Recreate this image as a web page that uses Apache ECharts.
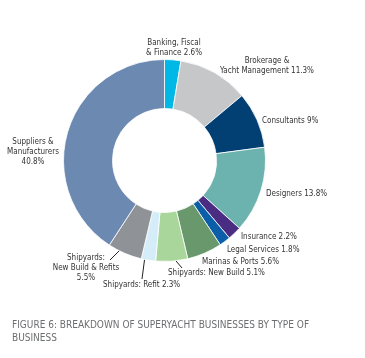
<!DOCTYPE html>
<html>
<head>
<meta charset="utf-8">
<script src="https://cdn.jsdelivr.net/npm/echarts@6/dist/echarts.min.js"></script>
<style>
html,body{margin:0;padding:0;background:#fff;}
#c{width:365px;height:358px;}
</style>
</head>
<body>
<div id="c"></div>
<script>
const categories = [
  'Banking, Fiscal\n& Finance',
  'Brokerage &\nYacht Management',
  'Consultants',
  'Designers',
  'Insurance',
  'Legal Services',
  'Marinas & Ports',
  'Shipyards: New Build',
  'Shipyards: Refit',
  'Shipyards:\nNew Build & Refits\n',
  'Suppliers &\nManufacturers\n'
];
const values = [2.6, 11.3, 9, 13.8, 2.2, 1.8, 5.6, 5.1, 2.3, 5.5, 40.8];
const colors = ['#00b8e6', '#c6c7c9', '#023f73', '#6cb2ae', '#4a2d82', '#0c5ea8', '#68986c', '#a9d69b', '#d5edf8', '#8f9297', '#6c89b2'];

// label anchor layout (x, y, align, leader line end)
const labelPos = [
  {x:174, y:48, align:'center'},
  {x:267, y:66, align:'center'},
  {x:262, y:121, align:'left'},
  {x:266, y:194, align:'left'},
  {x:241, y:237, align:'left'},
  {x:227, y:250, align:'left'},
  {x:202, y:262, align:'left'},
  {x:168, y:273, align:'left', line:[[165,248],[182,268]]},
  {x:103, y:285, align:'left', line:[[145,256],[142,279]]},
  {x:86, y:268, align:'center', line:[[128,242],[110,260]]},
  {x:33, y:152, align:'center'}
];

const FONT = '"DejaVu Sans Condensed", "DejaVu Sans", sans-serif';
const chart = echarts.init(document.getElementById('c'), null, {renderer:'canvas'});
chart.setOption({
  animation:false,
  title:{
    text:'FIGURE 6: BREAKDOWN OF SUPERYACHT BUSINESSES BY TYPE OF\nBUSINESS',
    left:12, top:318.5, padding:0,
    textStyle:{fontFamily:FONT, fontSize:10, fontWeight:'normal', color:'#6d6e70', lineHeight:13}
  },
  series:[{
    type:'pie',
    center:[164.5,160.5],
    radius:[52,101],
    startAngle:90,
    clockwise:true,
    avoidLabelOverlap:false,
    itemStyle:{borderColor:'#fff', borderWidth:0.8},
    label:{
      show:true,
      formatter: p => p.name + (p.name.endsWith('\n') ? '' : ' ') + p.value + '%',
      fontFamily:FONT,
      fontSize:8, color:'#333', lineHeight:10
    },
    labelLine:{show:true, lineStyle:{color:'#222', width:1}},
    labelLayout: function(params){
      const lp = labelPos[params.dataIndex];
      const r = {x:lp.x, y:lp.y, align:lp.align, verticalAlign:'middle'};
      if (lp.line) {
        r.labelLinePoints = [lp.line[0], lp.line[1], lp.line[1]];
      } else {
        r.labelLinePoints = [[lp.x,lp.y],[lp.x,lp.y],[lp.x,lp.y]];
      }
      return r;
    },
    data: categories.map((c,i)=>({name:c, value:values[i], itemStyle:{color:colors[i]}, labelLine:{show: !!labelPos[i].line}}))
  }]
});
</script>
</body>
</html>
